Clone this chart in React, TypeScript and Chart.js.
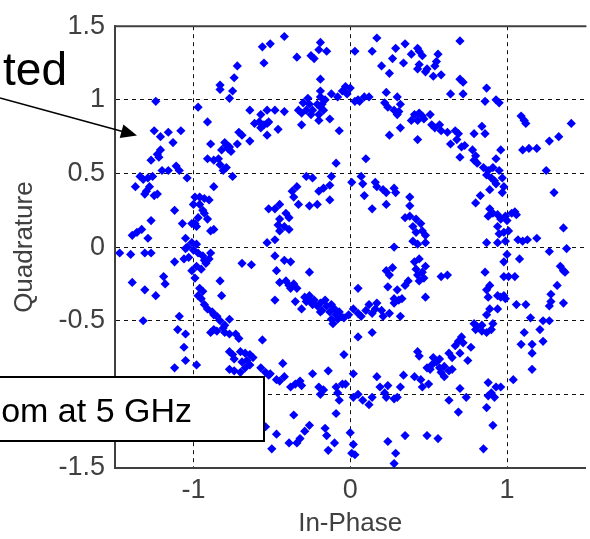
import React, { useEffect, useRef } from "react";
import { Chart, registerables } from "chart.js";

Chart.register(...registerables);

// ---- Data (In-Phase, Quadrature) ----
const upperLeft: number[][] = [
  [-0.56, 1.36], [-0.51, 1.38], [-0.55, 1.25], [-0.72, 1.23], [-0.74, 1.15], [-0.83, 1.10], [-0.83, 1.07],
  [-0.75, 1.06], [-0.77, 1.01], [-1.24, 0.99], [-0.97, 0.95], [-0.91, 0.85], [-0.64, 0.93], [-0.57, 0.90],
  [-0.53, 0.93], [-0.61, 0.84], [-0.58, 0.85], [-0.55, 0.83], [-0.53, 0.84], [-0.57, 0.81], [-0.52, 0.85],
  [-0.53, 0.76], [-0.71, 0.78], [-0.69, 0.76], [-0.64, 0.72], [-1.25, 0.79], [-1.21, 0.75], [-1.16, 0.78],
  [-1.08, 0.79], [-1.13, 0.71], [-1.21, 0.66], [-1.23, 0.63], [-1.27, 0.59], [-1.22, 0.61], [-1.20, 0.52],
  [-1.16, 0.52], [-1.11, 0.55], [-1.09, 0.52], [-1.04, 0.47], [-0.89, 0.70], [-0.80, 0.71], [-0.77, 0.68],
  [-0.82, 0.66], [-0.76, 0.65], [-0.72, 0.70], [-0.79, 0.69], [-0.78, 0.67], [-0.91, 0.60], [-0.87, 0.59],
  [-0.84, 0.60], [-0.83, 0.56], [-0.79, 0.54], [-0.81, 0.52], [-0.75, 0.48], [-0.87, 0.41], [-1.34, 0.48],
  [-1.32, 0.46], [-1.29, 0.47], [-1.26, 0.48], [-1.37, 0.41], [-1.30, 0.38], [-1.31, 0.36], [-1.25, 0.35],
  [-1.23, 0.36], [-1.28, 0.41], [-1.12, 0.25], [-1.27, 0.18], [-1.39, 0.08], [-1.36, 0.10], [-1.33, 0.12],
  [-1.29, 0.06], [-0.99, 0.34], [-0.96, 0.34], [-0.93, 0.33], [-0.90, 0.32], [-1.00, 0.29], [-0.96, 0.29],
  [-0.94, 0.25], [-0.93, 0.23], [-0.97, 0.20], [-0.99, 0.16], [-1.01, 0.16], [-0.98, 0.14], [-1.07, 0.16],
  [-0.91, 0.19], [-0.89, 0.11], [-0.87, 0.12], [-1.05, 0.06], [-1.01, 0.03], [-0.98, 0.02], [-1.04, 0.00],
  [-0.52, 0.26], [-0.53, 0.03],
];

const upperMid: number[][] = [
  [-0.42, 1.43], [-0.19, 1.39], [-0.20, 1.34], [-0.15, 1.33], [-0.25, 1.30], [-0.23, 1.28], [-0.34, 1.29],
  [0.03, 1.33], [0.17, 1.42], [0.14, 1.33], [0.29, 1.35], [0.35, 1.38], [0.43, 1.35], [0.44, 1.33],
  [0.39, 1.31], [0.46, 1.30], [0.27, 1.28], [0.34, 1.25], [0.20, 1.23], [0.25, 1.18], [0.44, 1.24],
  [0.43, 1.21], [0.48, 1.19], [-0.19, 1.14], [-0.19, 1.06], [-0.27, 1.01], [-0.19, 1.02], [-0.16, 1.00],
  [-0.12, 1.04], [-0.08, 1.02], [-0.05, 1.06], [-0.03, 1.09], [0.00, 1.08], [-0.02, 1.04], [-0.30, 0.98],
  [-0.26, 0.97], [-0.24, 0.93], [-0.21, 0.97], [-0.18, 0.97], [-0.17, 0.93], [-0.25, 0.90], [-0.20, 0.90],
  [-0.19, 0.95], [-0.33, 0.93], [-0.28, 0.93], [-0.31, 0.91], [-0.13, 0.87], [-0.20, 0.86], [-0.31, 0.83],
  [-0.42, 0.92], [-0.48, 0.93], [-0.46, 0.80], [-0.07, 0.79], [0.05, 1.00], [0.09, 1.02], [0.12, 1.02],
  [0.06, 0.99], [0.03, 0.99], [0.22, 0.98], [0.23, 1.05], [0.30, 1.02], [0.24, 0.95], [0.28, 0.93],
  [0.31, 0.92], [0.30, 0.90], [0.32, 0.97], [0.41, 0.90], [0.44, 0.91], [0.46, 0.89], [0.39, 0.86],
  [0.43, 0.86], [0.47, 0.87], [0.32, 0.81], [0.25, 0.76], [0.43, 0.73],
];

const innerRing: number[][] = [
  [-0.09, 0.57], [0.10, 0.60], [-0.28, 0.48], [-0.24, 0.47], [-0.12, 0.48], [-0.13, 0.42], [-0.17, 0.40],
  [-0.20, 0.38], [-0.34, 0.41], [-0.37, 0.38], [-0.36, 0.34], [-0.33, 0.29], [-0.45, 0.29], [-0.48, 0.26],
  [-0.41, 0.23], [-0.45, 0.19], [-0.39, 0.20], [-0.46, 0.15], [-0.42, 0.14], [-0.45, 0.11], [-0.39, 0.12],
  [-0.48, 0.05], [-0.26, 0.28], [-0.21, 0.29], [-0.13, 0.32], [0.01, 0.44], [0.07, 0.48], [0.08, 0.43],
  [0.09, 0.35], [0.14, 0.26], [0.16, 0.44], [0.17, 0.41], [0.21, 0.39], [0.23, 0.37], [0.28, 0.40],
  [0.29, 0.37], [0.23, 0.29], [0.38, 0.34], [0.38, 0.28], [0.35, 0.20], [0.38, 0.21], [0.42, 0.19],
  [0.45, 0.16], [0.40, 0.14], [0.42, 0.10], [0.46, 0.11], [0.48, 0.08], [0.40, 0.04], [0.43, 0.02],
  [0.48, 0.03], [0.28, 0.00],
];

const upperRight: number[][] = [
  [0.70, 1.40], [0.56, 1.31], [0.55, 1.26], [0.54, 1.23], [0.49, 1.21], [0.53, 1.16], [0.58, 1.17],
  [0.70, 1.14], [0.72, 1.12], [0.87, 1.08], [0.72, 1.04], [0.64, 1.04], [0.86, 0.99], [0.93, 1.00],
  [0.95, 0.98], [0.51, 0.90], [0.52, 0.83], [0.54, 0.81], [0.57, 0.83], [0.58, 0.79], [0.62, 0.78],
  [0.67, 0.79], [0.69, 0.77], [0.68, 0.73], [0.64, 0.70], [0.71, 0.68], [0.73, 0.69], [0.70, 0.61],
  [0.79, 0.77], [0.84, 0.82], [0.86, 0.77], [0.78, 0.66], [0.80, 0.62], [0.79, 0.59], [0.81, 0.57],
  [0.85, 0.54], [0.88, 0.52], [0.91, 0.54], [0.95, 0.52], [0.96, 0.66], [0.93, 0.60], [0.87, 0.49],
  [0.90, 0.47], [0.92, 0.45], [0.93, 0.43], [0.97, 0.47], [0.98, 0.41], [0.97, 0.37], [0.83, 0.35],
  [0.80, 0.30], [0.89, 0.39], [0.89, 0.26], [0.91, 0.23], [0.88, 0.21], [0.94, 0.22], [0.96, 0.19],
  [0.99, 0.21], [1.03, 0.23], [1.05, 0.24], [1.06, 0.22], [1.00, 0.18], [0.94, 0.14], [0.95, 0.09],
  [0.98, 0.10], [1.01, 0.11], [0.99, 0.04], [0.94, 0.03], [0.87, 0.03], [1.07, 0.05], [1.10, 0.04],
  [1.13, 0.05], [1.19, 0.06], [1.09, 0.89], [1.11, 0.86], [1.12, 0.84], [1.41, 0.84], [1.10, 0.66],
  [1.14, 0.67], [1.19, 0.67], [1.27, 0.72], [1.33, 0.75], [1.25, 0.52], [1.30, 0.37], [1.36, 0.13],
];

const lowerLeft: number[][] = [
  [-1.47, -0.04], [-1.40, -0.05], [-1.31, -0.04], [-1.27, -0.04], [-1.12, -0.10], [-1.06, -0.08],
  [-1.03, -0.07], [-1.05, -0.01], [-1.00, -0.02], [-0.97, -0.04], [-0.94, -0.06], [-0.93, -0.09],
  [-0.90, -0.08], [-0.89, -0.04], [-0.92, -0.11], [-0.95, -0.15], [-0.98, -0.13], [-1.01, -0.16],
  [-0.99, -0.21], [-0.96, -0.28], [-0.94, -0.30], [-0.97, -0.33], [-0.95, -0.35], [-0.93, -0.39],
  [-0.91, -0.42], [-0.88, -0.44], [-0.87, -0.46], [-0.85, -0.47], [-0.83, -0.50], [-0.80, -0.53],
  [-0.77, -0.49], [-0.81, -0.55], [-0.80, -0.58], [-0.77, -0.59], [-0.73, -0.59], [-0.71, -0.62],
  [-0.87, -0.56], [-0.89, -0.58], [-0.85, -0.57], [-0.77, -0.71], [-0.75, -0.73], [-0.74, -0.76],
  [-0.70, -0.71], [-0.67, -0.72], [-0.64, -0.73], [-0.62, -0.75], [-0.66, -0.77], [-0.69, -0.78],
  [-0.64, -0.80], [-0.77, -0.83], [-0.74, -0.84], [-0.70, -0.85], [-0.67, -0.82], [-0.57, -0.82],
  [-0.54, -0.85], [-0.52, -0.87], [-0.56, -0.63], [-0.69, -0.11], [-0.63, -0.12], [-0.83, -0.23],
  [-0.82, -0.33], [-1.39, -0.24], [-1.31, -0.29], [-1.24, -0.33], [-1.19, -0.20], [-1.18, -0.25],
  [-1.32, -0.50], [-1.09, -0.47], [-1.10, -0.56], [-1.05, -0.59], [-1.06, -0.68], [-1.05, -0.77],
  [-0.98, -0.80], [-1.12, -0.82], [-0.54, -1.22], [-0.50, -1.37],
];

const lowerMid: number[][] = [
  [-0.48, -0.06], [-0.42, -0.09], [-0.38, -0.10], [-0.47, -0.16], [-0.26, -0.17], [-0.45, -0.24],
  [-0.41, -0.23], [-0.39, -0.26], [-0.36, -0.25], [-0.34, -0.28], [-0.38, -0.28], [-0.48, -0.36],
  [-0.35, -0.37], [-0.31, -0.42], [-0.29, -0.34], [-0.26, -0.33], [-0.26, -0.36], [-0.23, -0.36],
  [-0.21, -0.40], [-0.19, -0.38], [-0.18, -0.43], [-0.16, -0.36], [-0.15, -0.40], [-0.13, -0.44],
  [-0.12, -0.39], [-0.10, -0.42], [-0.09, -0.46], [-0.07, -0.44], [-0.06, -0.47], [-0.04, -0.48],
  [-0.01, -0.46], [-0.12, -0.49], [-0.11, -0.52], [-0.08, -0.49], [-0.19, -0.44], [-0.24, -0.39],
  [-0.28, -0.37], [0.05, -0.28], [0.02, -0.42], [0.05, -0.45], [0.07, -0.47], [0.10, -0.43],
  [0.12, -0.39], [0.16, -0.42], [0.17, -0.38], [0.14, -0.45], [0.20, -0.43], [0.21, -0.47],
  [0.24, -0.27], [0.25, -0.45], [0.28, -0.35], [0.30, -0.29], [0.28, -0.38], [0.31, -0.36],
  [0.33, -0.35], [0.32, -0.47], [0.23, -0.16], [0.27, -0.14], [0.25, -0.19], [0.41, -0.10],
  [0.44, -0.08], [0.42, -0.15], [0.43, -0.19], [0.46, -0.17], [0.48, -0.13], [0.47, -0.21],
  [0.44, -0.23], [0.37, -0.23], [0.35, -0.26], [0.48, -0.34], [0.14, -0.58], [0.05, -0.61],
];

const lowerOuter: number[][] = [
  [-0.04, -0.73], [-0.43, -0.79], [-0.51, -0.86], [-0.47, -0.90], [-0.45, -0.91], [-0.42, -0.88],
  [-0.38, -0.95], [-0.35, -0.93], [-0.32, -0.91], [-0.31, -0.94], [-0.24, -0.86], [-0.20, -0.95],
  [-0.19, -1.00], [-0.17, -0.97], [-0.14, -0.84], [-0.09, -0.95], [-0.08, -0.99], [-0.07, -1.04],
  [-0.05, -0.93], [-0.03, -0.93], [-0.09, -1.13], [0.02, -0.86], [0.02, -1.02], [0.05, -1.00],
  [0.08, -1.04], [0.12, -1.07], [0.14, -1.02], [0.17, -0.88], [0.19, -0.95], [0.22, -0.99],
  [0.24, -0.94], [0.23, -1.02], [0.28, -1.03], [0.30, -1.02], [0.32, -0.95], [0.34, -0.87],
  [0.41, -0.88], [0.45, -0.90], [0.46, -0.95], [0.49, -0.82], [0.43, -0.71], [0.44, -0.74],
  [-0.47, -1.27], [-0.36, -1.14], [-0.39, -1.33], [-0.34, -1.33], [-0.32, -1.30], [-0.29, -1.25],
  [-0.26, -1.21], [-0.16, -1.23], [-0.15, -1.28], [-0.14, -1.38], [-0.10, -1.33], [0.00, -1.26],
  [0.02, -1.34], [0.01, -1.40], [0.03, -1.41], [0.24, -1.32], [0.29, -1.40], [0.28, -1.47],
  [0.35, -1.28], [0.49, -1.28],
];

const lowerRight: number[][] = [
  [1.00, -0.05], [1.08, -0.08], [0.98, -0.10], [0.98, -0.20], [1.01, -0.20], [1.05, -0.20], [0.86, -0.17],
  [0.89, -0.26], [0.87, -0.29], [0.88, -0.34], [0.94, -0.33], [0.96, -0.34], [0.98, -0.33], [0.99, -0.35],
  [0.89, -0.42], [0.87, -0.46], [0.94, -0.42], [1.06, -0.39], [1.12, -0.39], [1.15, -0.48], [1.23, -0.50],
  [1.27, -0.50], [1.21, -0.56], [1.11, -0.58], [1.09, -0.66], [1.16, -0.66], [1.16, -0.72], [1.23, -0.64],
  [1.16, -0.83], [1.27, -0.40], [1.28, -0.37], [1.28, -0.32], [1.32, -0.26], [1.36, -0.38], [1.27, -0.03],
  [1.38, -0.01], [1.34, -0.13], [1.36, -0.16], [1.37, -0.17], [0.79, -0.52], [0.81, -0.54], [0.84, -0.53],
  [0.80, -0.56], [0.84, -0.57], [0.87, -0.58], [0.90, -0.56], [0.91, -0.52], [0.71, -0.61], [0.69, -0.64],
  [0.67, -0.67], [0.72, -0.65], [0.77, -0.68], [0.63, -0.72], [0.65, -0.75], [0.70, -0.72], [0.57, -0.76],
  [0.55, -0.78], [0.53, -0.75], [0.52, -0.80], [0.57, -0.82], [0.60, -0.81], [0.63, -0.84], [0.65, -0.83],
  [0.58, -0.85], [0.60, -0.88], [0.75, -0.77], [0.51, -0.83], [0.50, -0.93], [0.70, -0.96], [0.74, -1.02],
  [0.88, -0.92], [0.93, -0.95], [0.96, -0.95], [0.90, -0.99], [0.92, -1.02], [0.88, -1.01], [1.04, -0.90],
  [0.63, -1.04], [0.69, -1.12], [0.87, -1.09], [0.91, -1.21], [0.56, -1.30], [0.85, -1.37], [0.62, -0.19],
  [0.58, -0.20],
];

const xTicks = [-1, 0, 1];
const yMin = -1.5;
const yMax = 1.5;
const yStep = 0.5;
const xTitle = "In-Phase";
const yTitle = "Quadrature";
const calloutTop = "ted";
const calloutBottom = "om at 5 GHz";

const FONT = "'Liberation Sans', Arial, Helvetica, sans-serif";
const TEXT_GREY = "#404040";
const AXIS_GREY = "#404040";

const overlayPlugin = {
  id: "overlay",
  afterDraw(chart: any) {
    const { ctx, chartArea: a } = chart;
    ctx.save();
    // top spine
    ctx.strokeStyle = AXIS_GREY;
    ctx.lineWidth = 2;
    ctx.beginPath();
    ctx.moveTo(a.left - 1, a.top);
    ctx.lineTo(a.right + 1, a.top);
    ctx.stroke();

    // upper callout text + arrow
    ctx.fillStyle = "#000";
    ctx.font = `46px ${FONT}`;
    ctx.textAlign = "right";
    ctx.textBaseline = "alphabetic";
    ctx.fillText(calloutTop, 67, 85);

    const sx = 0, sy = 98, tx = 137, ty = 135.5;
    const dx = tx - sx, dy = ty - sy;
    const len = Math.hypot(dx, dy);
    const ux = dx / len, uy = dy / len;
    const hl = 16, hw = 7;
    const bx = tx - ux * hl, by = ty - uy * hl;
    ctx.strokeStyle = "#000";
    ctx.lineWidth = 1.6;
    ctx.beginPath();
    ctx.moveTo(sx, sy);
    ctx.lineTo(bx + ux * 2, by + uy * 2);
    ctx.stroke();
    ctx.beginPath();
    ctx.moveTo(tx, ty);
    ctx.lineTo(bx - uy * hw, by + ux * hw);
    ctx.lineTo(bx + uy * hw, by - ux * hw);
    ctx.closePath();
    ctx.fill();

    // lower callout box
    ctx.fillStyle = "#fff";
    ctx.fillRect(-5, 377, 269, 64);
    ctx.strokeStyle = "#000";
    ctx.lineWidth = 2;
    ctx.strokeRect(-5, 377, 269, 64);
    ctx.fillStyle = "#000";
    ctx.font = `34px ${FONT}`;
    ctx.textAlign = "right";
    ctx.fillText(calloutBottom, 192, 422);
    ctx.restore();
  },
};

export default function App() {
  const ref = useRef<HTMLCanvasElement | null>(null);

  useEffect(() => {
    if (!ref.current) return;
    const all = [
      ...upperLeft, ...upperMid, ...innerRing, ...upperRight,
      ...lowerLeft, ...lowerMid, ...lowerOuter, ...lowerRight,
    ].map(([x, y]) => ({ x, y }));

    const chart = new Chart(ref.current, {
      type: "scatter",
      data: {
        datasets: [
          {
            data: all,
            pointStyle: "rectRot",
            pointRadius: 4.6,
            pointHoverRadius: 4.6,
            backgroundColor: "#0000ff",
            borderColor: "#0000ff",
            borderWidth: 0,
          },
        ],
      },
      options: {
        responsive: false,
        animation: false,
        devicePixelRatio: 1,
        layout: { padding: { top: 20, left: 0, right: 0, bottom: 0 } },
        plugins: { legend: { display: false }, tooltip: { enabled: false } },
        scales: {
          x: {
            type: "linear",
            min: -1.5,
            max: 1.5,
            afterBuildTicks: (scale: any) => {
              scale.ticks = xTicks.map((v) => ({ value: v }));
            },
            afterFit: (scale: any) => {
              scale.height = 71;
            },
            ticks: {
              font: { family: FONT, size: 27 },
              color: TEXT_GREY,
              padding: 6,
              callback: (v: any) => String(v),
            },
            grid: { color: "#111", lineWidth: 1, drawTicks: false },
            border: { display: true, color: AXIS_GREY, width: 2, dash: [4, 4] },
            title: {
              display: true,
              text: xTitle,
              font: { family: FONT, size: 26 },
              color: TEXT_GREY,
              padding: { top: 0, bottom: 0 },
            },
          },
          y: {
            type: "linear",
            min: yMin,
            max: yMax,
            afterFit: (scale: any) => {
              scale.width = 115;
            },
            ticks: {
              stepSize: yStep,
              font: { family: FONT, size: 27 },
              color: TEXT_GREY,
              padding: 10,
              callback: (v: any) => String(v),
            },
            grid: {
              color: (c: any) =>
                c.tick && Math.abs(Math.abs(c.tick.value) - 1.5) < 1e-6 ? "rgba(0,0,0,0)" : "#111",
              lineWidth: 1,
              drawTicks: false,
            },
            border: { display: true, color: AXIS_GREY, width: 2, dash: [4, 4] },
            title: {
              display: true,
              text: yTitle,
              font: { family: FONT, size: 26 },
              color: TEXT_GREY,
              padding: { top: 9, bottom: 0 },
            },
          },
        },
      },
      plugins: [overlayPlugin],
    } as any);
    return () => chart.destroy();
  }, []);

  return (
    <div style={{ position: "fixed", left: 0, top: 0, width: 590, height: 539, background: "#fff" }}>
      <canvas ref={ref} width={590} height={539} style={{ display: "block" }} />
    </div>
  );
}
